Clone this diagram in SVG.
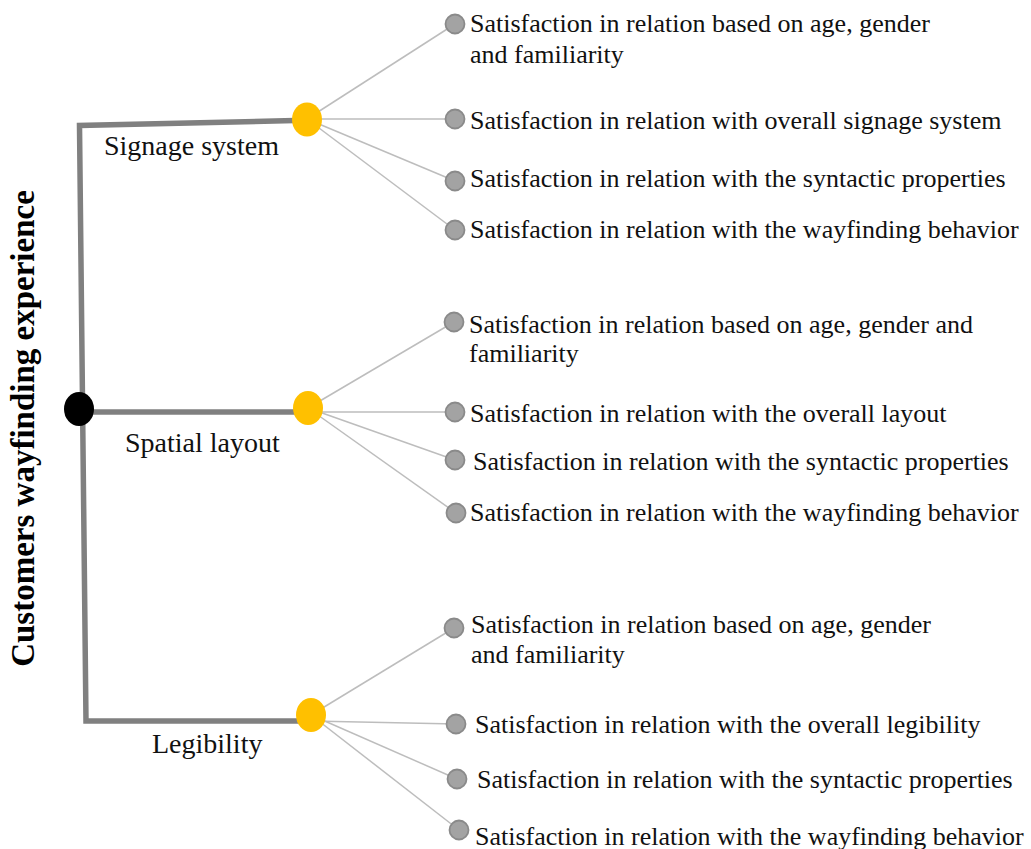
<svg xmlns="http://www.w3.org/2000/svg" width="1031" height="849" viewBox="0 0 1031 849">
<style>
.trunk{fill:none;stroke:#808080;stroke-width:5.5;stroke-linejoin:miter}
.twig{fill:none;stroke:#bdbdbd;stroke-width:1.5}
.leaf{fill:#a3a3a3;stroke:#8a8a8a;stroke-width:1.8}
.hub{fill:#ffc000}
.item{font-family:"Liberation Serif","Times New Roman",serif;font-size:26px;fill:#111}
.lab{font-family:"Liberation Serif","Times New Roman",serif;font-size:28px;fill:#111}
.title{font-family:"Liberation Serif","Times New Roman",serif;font-size:33px;font-weight:bold;fill:#000}
</style>
<rect width="1031" height="849" fill="#fff"/>
<g id="connectors">
<path class="trunk" d="M295 120.5 L79.5 125.5 L86 721 L300 721"/>
<path class="trunk" d="M79 412 L295 412"/>
<line class="twig" x1="307" y1="119" x2="455" y2="24"/>
<line class="twig" x1="307" y1="119" x2="455" y2="119"/>
<line class="twig" x1="307" y1="119" x2="455" y2="181"/>
<line class="twig" x1="307" y1="119" x2="455" y2="230"/>
<line class="twig" x1="308" y1="408" x2="454" y2="322"/>
<line class="twig" x1="308" y1="412" x2="455" y2="412"/>
<line class="twig" x1="308" y1="408" x2="455" y2="460"/>
<line class="twig" x1="308" y1="408" x2="456" y2="513"/>
<line class="twig" x1="311" y1="715" x2="454" y2="628"/>
<line class="twig" x1="311" y1="721" x2="456" y2="724"/>
<line class="twig" x1="311" y1="715" x2="457" y2="779"/>
<line class="twig" x1="311" y1="715" x2="459" y2="830"/>
</g>
<g id="title"><text class="title" transform="translate(34,428.5) rotate(-90)" text-anchor="middle">Customers wayfinding experience</text></g>
<g id="root"><ellipse cx="79" cy="409" rx="15" ry="17" fill="#000"/></g>
<g id="signage">
<ellipse class="hub" cx="307" cy="119.5" rx="15" ry="17"/>
<text class="lab" x="104" y="155">Signage system</text>
</g>
<g id="spatial">
<ellipse class="hub" cx="308" cy="408" rx="15" ry="17"/>
<text class="lab" x="125" y="452">Spatial layout</text>
</g>
<g id="legibility">
<ellipse class="hub" cx="311" cy="715" rx="15" ry="17"/>
<text class="lab" x="152" y="753">Legibility</text>
</g>
<g id="s1"><circle class="leaf" cx="455" cy="24" r="9.5"/><text class="item" x="470" y="32">Satisfaction in relation based on age, gender</text><text class="item" x="470" y="63">and familiarity</text></g>
<g id="s2"><circle class="leaf" cx="455" cy="119" r="9.5"/><text class="item" x="470" y="129">Satisfaction in relation with overall signage system</text></g>
<g id="s3"><circle class="leaf" cx="455" cy="181" r="9.5"/><text class="item" x="470" y="187">Satisfaction in relation with the syntactic properties</text></g>
<g id="s4"><circle class="leaf" cx="455" cy="230" r="9.5"/><text class="item" x="470" y="238">Satisfaction in relation with the wayfinding behavior</text></g>
<g id="p1"><circle class="leaf" cx="454" cy="322" r="9.5"/><text class="item" x="469" y="333">Satisfaction in relation based on age, gender and</text><text class="item" x="469" y="362">familiarity</text></g>
<g id="p2"><circle class="leaf" cx="455" cy="412" r="9.5"/><text class="item" x="470" y="422">Satisfaction in relation with the overall layout</text></g>
<g id="p3"><circle class="leaf" cx="455" cy="460" r="9.5"/><text class="item" x="473" y="470">Satisfaction in relation with the syntactic properties</text></g>
<g id="p4"><circle class="leaf" cx="456" cy="513" r="9.5"/><text class="item" x="470" y="521">Satisfaction in relation with the wayfinding behavior</text></g>
<g id="l1"><circle class="leaf" cx="454" cy="628" r="9.5"/><text class="item" x="471" y="633">Satisfaction in relation based on age, gender</text><text class="item" x="471" y="663">and familiarity</text></g>
<g id="l2"><circle class="leaf" cx="456" cy="724" r="9.5"/><text class="item" x="475" y="733">Satisfaction in relation with the overall legibility</text></g>
<g id="l3"><circle class="leaf" cx="457" cy="779" r="9.5"/><text class="item" x="477" y="788">Satisfaction in relation with the syntactic properties</text></g>
<g id="l4"><circle class="leaf" cx="459" cy="830" r="9.5"/><text class="item" x="475" y="845">Satisfaction in relation with the wayfinding behavior</text></g>
</svg>
